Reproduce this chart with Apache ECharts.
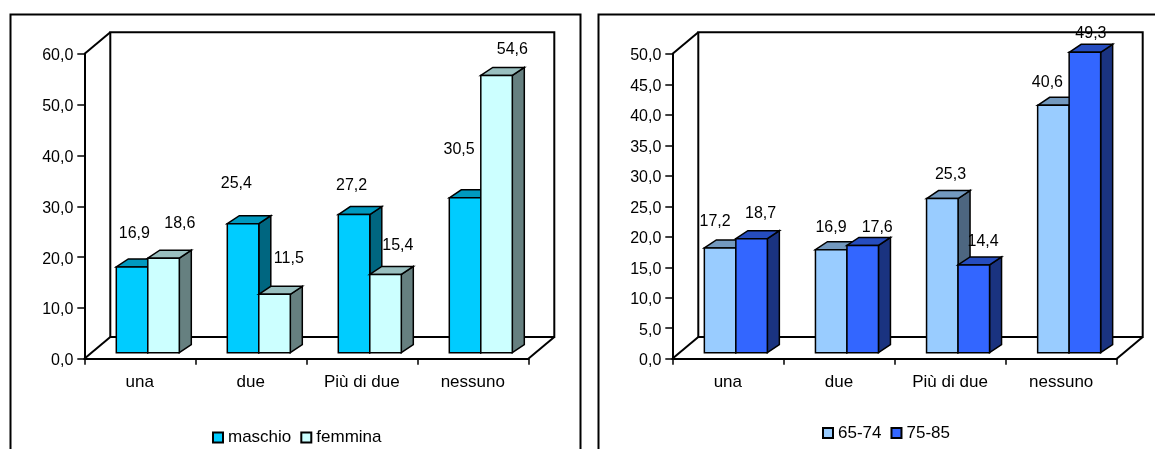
<!DOCTYPE html>
<html>
<head>
<meta charset="utf-8">
<style>html,body{margin:0;padding:0;background:#fff;overflow:hidden}#c{width:1155px;height:449px}</style>
<script src="https://cdn.jsdelivr.net/npm/echarts@6/dist/echarts.min.js"></script>
</head>
<body>
<div id="c"></div>
<script>
var categories = ['una', 'due', 'Più di due', 'nessuno'];
var maschio = [16.9, 25.4, 27.2, 30.5];
var femmina = [18.6, 11.5, 15.4, 54.6];
var eta6574 = [17.2, 16.9, 25.3, 40.6];
var eta7585 = [18.7, 17.6, 14.4, 49.3];

// Label nudges, relative to the top centre of each bar's front face
var maschioNudge = [[2.25, -33], [-6.75, -40], [-2.5, -29.2], [-6, -48.5]];
var femminaNudge = [[16.25, -34.5], [14.25, -36], [12.25, -28.5], [15.75, -26]];
var eta6574Nudge = [[-5, -25.8], [-0.2, -22], [8.2, -24], [-6, -23]];
var eta7585Nudge = [[9, -25], [14.5, -17.6], [9.3, -23.2], [6, -18.3]];

var FONT = '"Liberation Sans", Arial, sans-serif';
var FS = 16, FS_WORD = 17, LW = 1.5, INK = '#000';
var WALL_DX = 26, WALL_DY = 21.7;       // depth of the chart box
var BAR_DX = 12, BAR_DY = 8;            // depth of a bar
var BAR_SHIFT_X = 8, BAR_SHIFT_Y = 6;   // bars stand inside the floor
var BAR_W = 31.5;

function fmt(v) { return v.toFixed(1).replace('.', ','); }

function frameSeries(idx) {
  return {
    type: 'custom', xAxisIndex: idx, yAxisIndex: idx, z: 1, silent: true, clip: false,
    data: [[0, 0]], encode: { x: 0, y: 1 },
    renderItem: function (params) {
      var g = params.coordSys, x0 = g.x, x1 = g.x + g.width, y0 = g.y, y1 = g.y + g.height;
      var d = WALL_DX, e = WALL_DY;
      var st = { fill: 'none', stroke: INK, lineWidth: 2 };
      return { type: 'group', children: [
        { type: 'polygon', shape: { points: [[x0 + d, y0 - e], [x1 + d, y0 - e], [x1 + d, y1 - e], [x0 + d, y1 - e]] }, style: { fill: '#fff', stroke: INK, lineWidth: 2 } },
        { type: 'polyline', shape: { points: [[x0, y0], [x0 + d, y0 - e]] }, style: st },
        { type: 'polyline', shape: { points: [[x0, y1], [x0 + d, y1 - e]] }, style: st },
        { type: 'polyline', shape: { points: [[x1, y1], [x1 + d, y1 - e]] }, style: st }
      ] };
    }
  };
}

function barSeries(idx, name, values, slot, front, top, side) {
  return {
    type: 'custom', name: name, xAxisIndex: idx, yAxisIndex: idx, z: 3 + slot, clip: false,
    itemStyle: { color: front },
    data: values.map(function (v, i) { return [i, v]; }),
    encode: { x: 0, y: 1 },
    renderItem: function (params, api) {
      var i = api.value(0), v = api.value(1);
      var pTop = api.coord([i, v]), pBase = api.coord([i, 0]);
      var l = pTop[0] + BAR_SHIFT_X - BAR_W + slot * BAR_W, r = l + BAR_W;
      var t = pTop[1] - BAR_SHIFT_Y, b = pBase[1] - BAR_SHIFT_Y;
      var st = function (c) { return { fill: c, stroke: INK, lineWidth: LW, lineJoin: 'miter' }; };
      return { type: 'group', children: [
        { type: 'polygon', shape: { points: [[r, t], [r + BAR_DX, t - BAR_DY], [r + BAR_DX, b - BAR_DY], [r, b]] }, style: st(side) },
        { type: 'polygon', shape: { points: [[l, t], [l + BAR_DX, t - BAR_DY], [r + BAR_DX, t - BAR_DY], [r, t]] }, style: st(top) },
        { type: 'polygon', shape: { points: [[l, t], [r, t], [r, b], [l, b]] }, style: st(front) }
      ] };
    }
  };
}

function labelSeries(idx, values, nudges, slot) {
  return {
    type: 'custom', xAxisIndex: idx, yAxisIndex: idx, z: 10, silent: true, clip: false,
    data: values.map(function (v, i) { return [i, v]; }),
    encode: { x: 0, y: 1 },
    renderItem: function (params, api) {
      var i = api.value(0), v = api.value(1);
      var p = api.coord([i, v]), n = nudges[i];
      var cx = p[0] + BAR_SHIFT_X - BAR_W + slot * BAR_W + BAR_W / 2 + n[0];
      var cy = p[1] - BAR_SHIFT_Y + n[1];
      return { type: 'text', style: { text: fmt(v), x: cx, y: cy, align: 'center', verticalAlign: 'middle', fontSize: FS, fontFamily: FONT, fill: INK } };
    }
  };
}

function xAxis(idx) {
  return {
    type: 'category', gridIndex: idx, data: categories, boundaryGap: true,
    axisLine: { show: true, lineStyle: { color: INK, width: 2 } },
    axisTick: { show: true, alignWithLabel: false, length: 6, lineStyle: { color: INK, width: 1.5 } },
    axisLabel: { color: INK, fontSize: FS_WORD, fontFamily: FONT, margin: 15, interval: 0 },
    splitLine: { show: false }
  };
}
function yAxis(idx, max, step) {
  return {
    type: 'value', gridIndex: idx, min: 0, max: max, interval: step,
    axisLine: { show: true, lineStyle: { color: INK, width: 2 } },
    axisTick: { show: true, length: 7, lineStyle: { color: INK, width: 1.5 } },
    axisLabel: { color: INK, fontSize: FS, fontFamily: FONT, margin: 11, verticalAlign: 'top', lineHeight: 4, formatter: fmt },
    splitLine: { show: false }
  };
}
function legend(names, left, top, gap) {
  return {
    data: names, left: left, top: top, orient: 'horizontal', icon: 'rect',
    itemWidth: 10, itemHeight: 10, itemGap: gap, padding: 0, selectedMode: false,
    itemStyle: { borderColor: INK, borderWidth: 2 },
    textStyle: { color: INK, fontSize: FS_WORD, fontFamily: FONT }
  };
}

var chart = echarts.init(document.getElementById('c'), null, { renderer: 'canvas' });
chart.setOption({
  animation: false,
  backgroundColor: '#fff',
  graphic: [
    { type: 'rect', z: -10, shape: { x: 10.5, y: 14.5, width: 570, height: 460 }, style: { fill: '#fff', stroke: INK, lineWidth: 2 } },
    { type: 'rect', z: -10, shape: { x: 598.5, y: 14.5, width: 600, height: 460 }, style: { fill: '#fff', stroke: INK, lineWidth: 2 } }
  ],
  grid: [
    { left: 84.3, top: 54, width: 444, height: 304.7 },
    { left: 672.3, top: 54, width: 444.4, height: 304.7 }
  ],
  xAxis: [xAxis(0), xAxis(1)],
  yAxis: [yAxis(0, 60, 10), yAxis(1, 50, 5)],
  legend: [legend(['maschio', 'femmina'], 212, 429, 9), legend(['65-74', '75-85'], 822, 424.5, 9)],
  series: [
    frameSeries(0),
    barSeries(0, 'maschio', maschio, 0, '#00CCFF', '#0099BF', '#006680'),
    barSeries(0, 'femmina', femmina, 1, '#CCFFFF', '#99BFBF', '#668080'),
    labelSeries(0, maschio, maschioNudge, 0),
    labelSeries(0, femmina, femminaNudge, 1),
    frameSeries(1),
    barSeries(1, '65-74', eta6574, 0, '#99CCFF', '#7399BF', '#4D6680'),
    barSeries(1, '75-85', eta7585, 1, '#3366FF', '#264DBF', '#1A3380'),
    labelSeries(1, eta6574, eta6574Nudge, 0),
    labelSeries(1, eta7585, eta7585Nudge, 1)
  ]
});
</script>
</body>
</html>
